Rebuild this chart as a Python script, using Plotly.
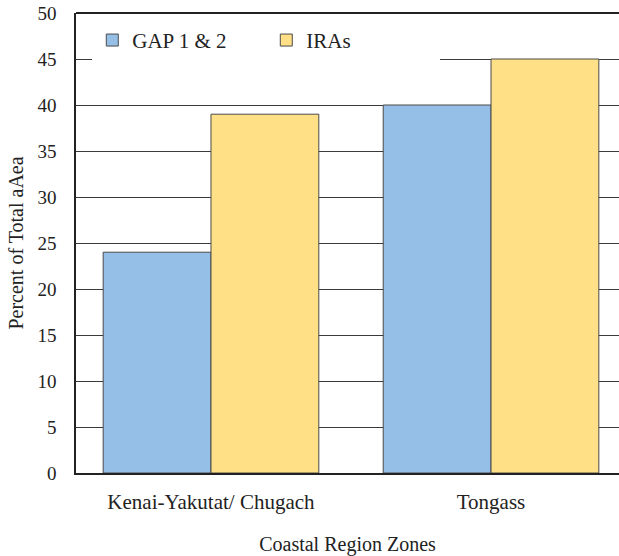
import plotly.graph_objects as go

# Share of total area by coastal region zone
zones = ["Kenai-Yakutat/ Chugach", "Tongass"]
gap_1_2 = [24, 40]
iras = [39, 45]
y_ticks = [0, 5, 10, 15, 20, 25, 30, 35, 40, 45, 50]

SERIF = "Times New Roman, Liberation Serif, serif"
TEXT = "#222222"
outline = dict(color="#4a4a4a", width=1)

def serif(size):
    return dict(family=SERIF, size=size, color=TEXT)

fig = go.Figure()
fig.add_trace(go.Bar(x=zones, y=gap_1_2, name="GAP 1 & 2",
                     marker=dict(color="#95bfe6", line=outline)))
fig.add_trace(go.Bar(x=zones, y=iras, name="IRAs",
                     marker=dict(color="#ffe087", line=outline)))

# heavier frame line along the top of the plot area
fig.add_shape(type="line", xref="paper", yref="paper", x0=0, x1=1, y0=1, y1=1,
              line=dict(color=TEXT, width=2), layer="above")

fig.update_layout(
    width=619, height=556,
    margin=dict(l=76, r=0, t=13, b=83),
    paper_bgcolor="white", plot_bgcolor="white",
    barmode="group", bargap=0.23, bargroupgap=0,
    font=serif(18),
    showlegend=True,
    legend=dict(orientation="h", x=0.03, y=0.985, xanchor="left", yanchor="top",
                bgcolor="white", font=serif(21),
                entrywidth=129, itemwidth=30, traceorder="normal"),
    xaxis=dict(range=[-0.482, 1.457], showline=True, linecolor=TEXT, linewidth=2,
               ticks="outside", ticklen=9, tickcolor="rgba(0,0,0,0)",
               showgrid=False, tickfont=serif(21),
               title=dict(text="Coastal Region Zones", standoff=26, font=serif(20))),
    yaxis=dict(range=[0, 50], tickvals=y_ticks, showline=True, linecolor=TEXT,
               linewidth=1.5, showgrid=True, gridcolor="#3a3a3a", gridwidth=1,
               ticks="outside", ticklen=14, tickcolor="rgba(0,0,0,0)",
               tickfont=serif(19), zeroline=False,
               title=dict(text="Percent of Total aAea", standoff=8, font=serif(20))),
)

fig.write_html("out.html")
